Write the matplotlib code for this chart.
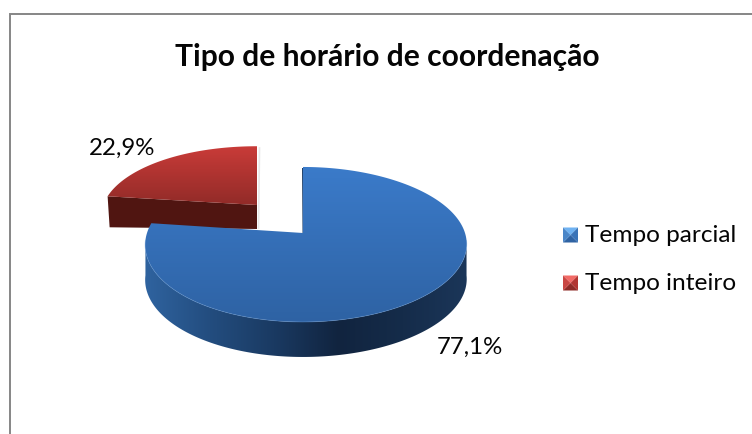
import numpy as np
import matplotlib
matplotlib.use("Agg")
import matplotlib.pyplot as plt
from matplotlib.colors import LinearSegmentedColormap
from matplotlib.patches import Polygon

plt.rcParams['font.family'] = ['Lato', 'DejaVu Sans']

title = "Tipo de horário de coordenação"
labels = ["Tempo parcial", "Tempo inteiro"]
values = [77.1, 22.9]


def project(theta, cx, cy, sx=1.0, sy=1.0):
    # tilted disc, angles clockwise from the top
    u = np.sin(theta)
    v = np.cos(theta)
    d = 1 + 0.148 * v
    x = (159 * u / d + 3 * u ** 2) * sx
    y = -75.8 * v / d * sy
    return cx + x, cy + y


def grad(ax, poly, colors, extent, horizontal=False):
    cmap = LinearSegmentedColormap.from_list("g", colors)
    z = np.linspace(0, 1, 256)
    z = z.reshape(1, -1) if horizontal else z.reshape(-1, 1)
    im = ax.imshow(z, cmap=cmap, extent=extent, aspect='auto', zorder=poly.get_zorder(), vmin=0, vmax=1)
    poly.set_facecolor('none')
    poly.set_edgecolor('none')
    ax.add_patch(poly)
    im.set_clip_path(poly)


fig = plt.figure(figsize=(7.52, 4.34), dpi=100)
ax = fig.add_axes([0, 0, 1, 1])

end = 2 * np.pi * values[0] / sum(values)

# red slice, pulled out to the back
t = np.linspace(end, 2 * np.pi, 80)
rx, ry = project(t, 257, 205, 0.985, 0.89)
ax.add_patch(Polygon([(rx[0], ry[0]), (rx[0] + 2, ry[0] + 31), (257, 229), (257, 205)],
                     closed=True, fc='#501511', ec='none', zorder=2))
top = np.column_stack([np.r_[rx, 257], np.r_[ry, 205]])
grad(ax, Polygon(top, closed=True, zorder=3), ['#cb3c39', '#8f2a27'], [100, 262, 208, 144])
ax.plot([259.5, 258.5], [148, 228], color='#bbbbbb', lw=1.2, alpha=0.35, zorder=1)

# blue slice
t = np.linspace(0, end, 300)
bx, by = project(t, 303, 233)
depth = 35
front = by > 240
sx = bx[front]
sy = by[front]
side = np.column_stack([np.r_[sx, sx[::-1]], np.r_[sy, sy[::-1] + depth]])
grad(ax, Polygon(side, closed=True, zorder=4),
     ['#2f639f', '#234d7f', '#1a3a62', '#11243f', '#152c4a', '#1b3659'],
     [145, 468, 360, 230], horizontal=True)
ax.add_patch(Polygon([(302.5, 233), (303.5, 233), (303, 168), (302, 168)], closed=True, fc='#1f3f68', ec='none', zorder=4))
top = np.column_stack([np.r_[bx, 303], np.r_[by, 233]])
grad(ax, Polygon(top, closed=True, zorder=5), ['#3b7bca', '#2e62a3'], [140, 470, 325, 165])
ax.plot(bx[front], by[front], color='#5f93d0', lw=0.6, alpha=0.45, zorder=6)

# value labels
fmt = [f"{v:.1f}".replace('.', ',') + "%" for v in values]
ax.text(470, 347, fmt[0], fontsize=17.3, ha='center', va='center', color='#050505', zorder=7)
ax.text(122.5, 148, fmt[1], fontsize=17.3, ha='center', va='center', color='#050505', zorder=7)

ax.text(387.5, 57, title, fontsize=21.6, fontweight='bold', ha='center', va='center', color='#050505')

# legend with the little pyramid keys
key_colors = [('#6fb2f2', '#2f63a3', '#4a86c8', '#3a74b8'), ('#f26a66', '#8f2a27', '#c94643', '#b23532')]
for y0, name, col in zip([235, 283], labels, key_colors):
    x0 = 570.5
    h = 7.5
    c = (x0, y0)
    a, b, d, e = (x0 - h, y0 - h), (x0 + h, y0 - h), (x0 + h, y0 + h), (x0 - h, y0 + h)
    ax.add_patch(Polygon([a, b, c], fc=col[0], ec='none', zorder=3))
    ax.add_patch(Polygon([e, d, c], fc=col[1], ec='none', zorder=3))
    ax.add_patch(Polygon([a, e, c], fc=col[2], ec='none', zorder=3))
    ax.add_patch(Polygon([b, d, c], fc=col[3], ec='none', zorder=3))
    ax.text(585, y0, name, fontsize=17.6, ha='left', va='center', color='#050505')

# chart frame, only top and left show
ax.plot([9.7, 9.7, 752], [434, 13.7, 13.7], color='#868686', lw=1.4, zorder=8, solid_joinstyle='miter')

ax.set_xlim(0, 752)
ax.set_ylim(434, 0)
ax.axis('off')
fig.savefig("out.png", dpi=100, facecolor='white')
